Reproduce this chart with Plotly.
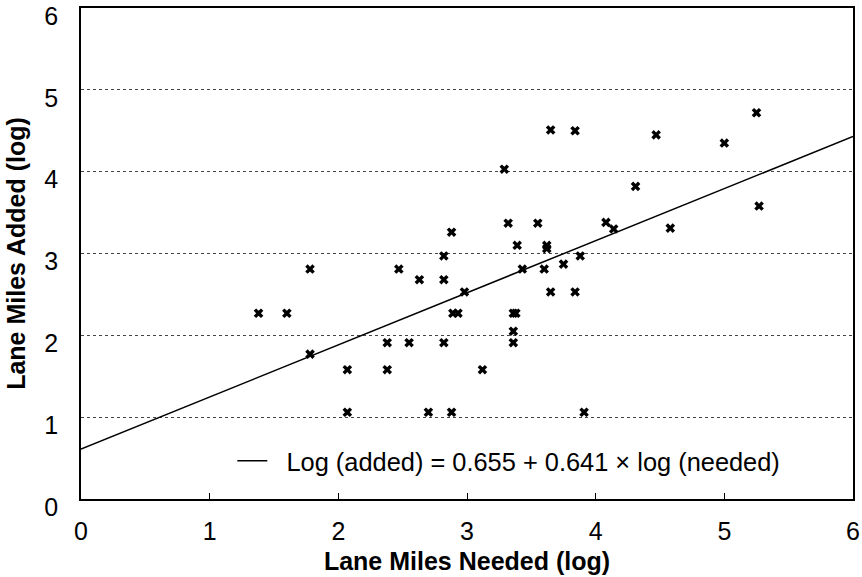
import plotly.graph_objects as go

# Observed points (log lane miles needed, log lane miles added)
needed = [1.38, 1.60, 1.78, 1.78, 2.07, 2.07, 2.38, 2.38, 2.47, 2.55,
          2.63, 2.70, 2.82, 2.82, 2.82, 2.88, 2.88, 2.89, 2.93, 2.98,
          3.12, 3.29, 3.32, 3.36, 3.38, 3.36, 3.36, 3.39, 3.43, 3.55,
          3.60, 3.62, 3.62, 3.65, 3.65, 3.75, 3.84, 3.84, 3.88, 3.91,
          4.08, 4.14, 4.31, 4.47, 4.58, 5.00, 5.25, 5.27]
added = [2.27, 2.27, 2.81, 1.77, 1.58, 1.06, 1.91, 1.58, 2.81, 1.91,
         2.68, 1.06, 2.97, 2.68, 1.91, 1.06, 3.26, 2.27, 2.27, 2.53,
         1.58, 4.03, 3.37, 2.27, 2.27, 2.05, 1.91, 3.10, 2.81, 3.37,
         2.81, 3.10, 3.06, 4.51, 2.53, 2.87, 4.50, 2.53, 2.97, 1.06,
         3.38, 3.30, 3.82, 4.45, 3.31, 4.35, 4.72, 3.58]

# Fitted regression line as drawn
fit_x = [0, 6]
fit_y = [0.61, 4.43]
fit_label = "Log (added) = 0.655 + 0.641 \u00d7 log (needed)"

x_ticks = [0, 1, 2, 3, 4, 5, 6]
y_ticks = [0, 1, 2, 3, 4, 5, 6]

FONT = "Liberation Sans, Arial, Helvetica, sans-serif"
FS = 25

fig = go.Figure()
fig.add_trace(go.Scatter(
    x=needed, y=added, mode="markers", showlegend=False,
    marker=dict(symbol="x", size=8.5, color="black",
                line=dict(width=0)),
    cliponaxis=False,
))
fig.add_trace(go.Scatter(
    x=fit_x, y=fit_y, mode="lines", name="\u00a0\u00a0" + fit_label,
    line=dict(color="black", width=1.5),
))

fig.update_layout(
    width=862, height=577,
    margin=dict(l=81, r=9, t=8, b=78, autoexpand=False),
    paper_bgcolor="white", plot_bgcolor="white",
    font=dict(family=FONT, size=FS, color="black"),
    showlegend=True,
    legend=dict(
        x=0.196, y=0.077, xanchor="left", yanchor="middle",
        bgcolor="rgba(0,0,0,0)", font=dict(size=25.4, family=FONT),
        itemwidth=30,
    ),
)
fig.update_xaxes(
    range=[0, 6], tickvals=x_ticks, ticktext=[str(v) for v in x_ticks],
    showline=True, linecolor="black", linewidth=1.5, mirror=True,
    ticks="inside", ticklen=6, tickcolor="black",
    showgrid=False, zeroline=False, automargin=False,
    tickfont=dict(size=FS), ticklabelstandoff=9, ticklabeloverflow="allow",
    title=dict(text="<b>Lane Miles Needed (log)</b>",
               font=dict(size=FS), standoff=9),
)
fig.update_yaxes(
    range=[0, 6], tickvals=y_ticks, ticktext=[str(v) for v in y_ticks],
    showline=True, linecolor="black", linewidth=1.5, mirror=True,
    ticks="", showgrid=True, gridcolor="#444", gridwidth=1, griddash="dot",
    zeroline=False, automargin=False,
    tickfont=dict(size=FS), ticklabelstandoff=16, ticklabelshift=8,
    ticklabeloverflow="allow",
    title=dict(text="<b>Lane Miles Added (log)</b>",
               font=dict(size=FS), standoff=12),
)

# remove the default page margin so the figure fills the window exactly
fig.write_html("out.html",
               config={"displayModeBar": False},
               post_script="document.body.style.margin='0';"
                           "document.body.style.overflow='hidden';")
